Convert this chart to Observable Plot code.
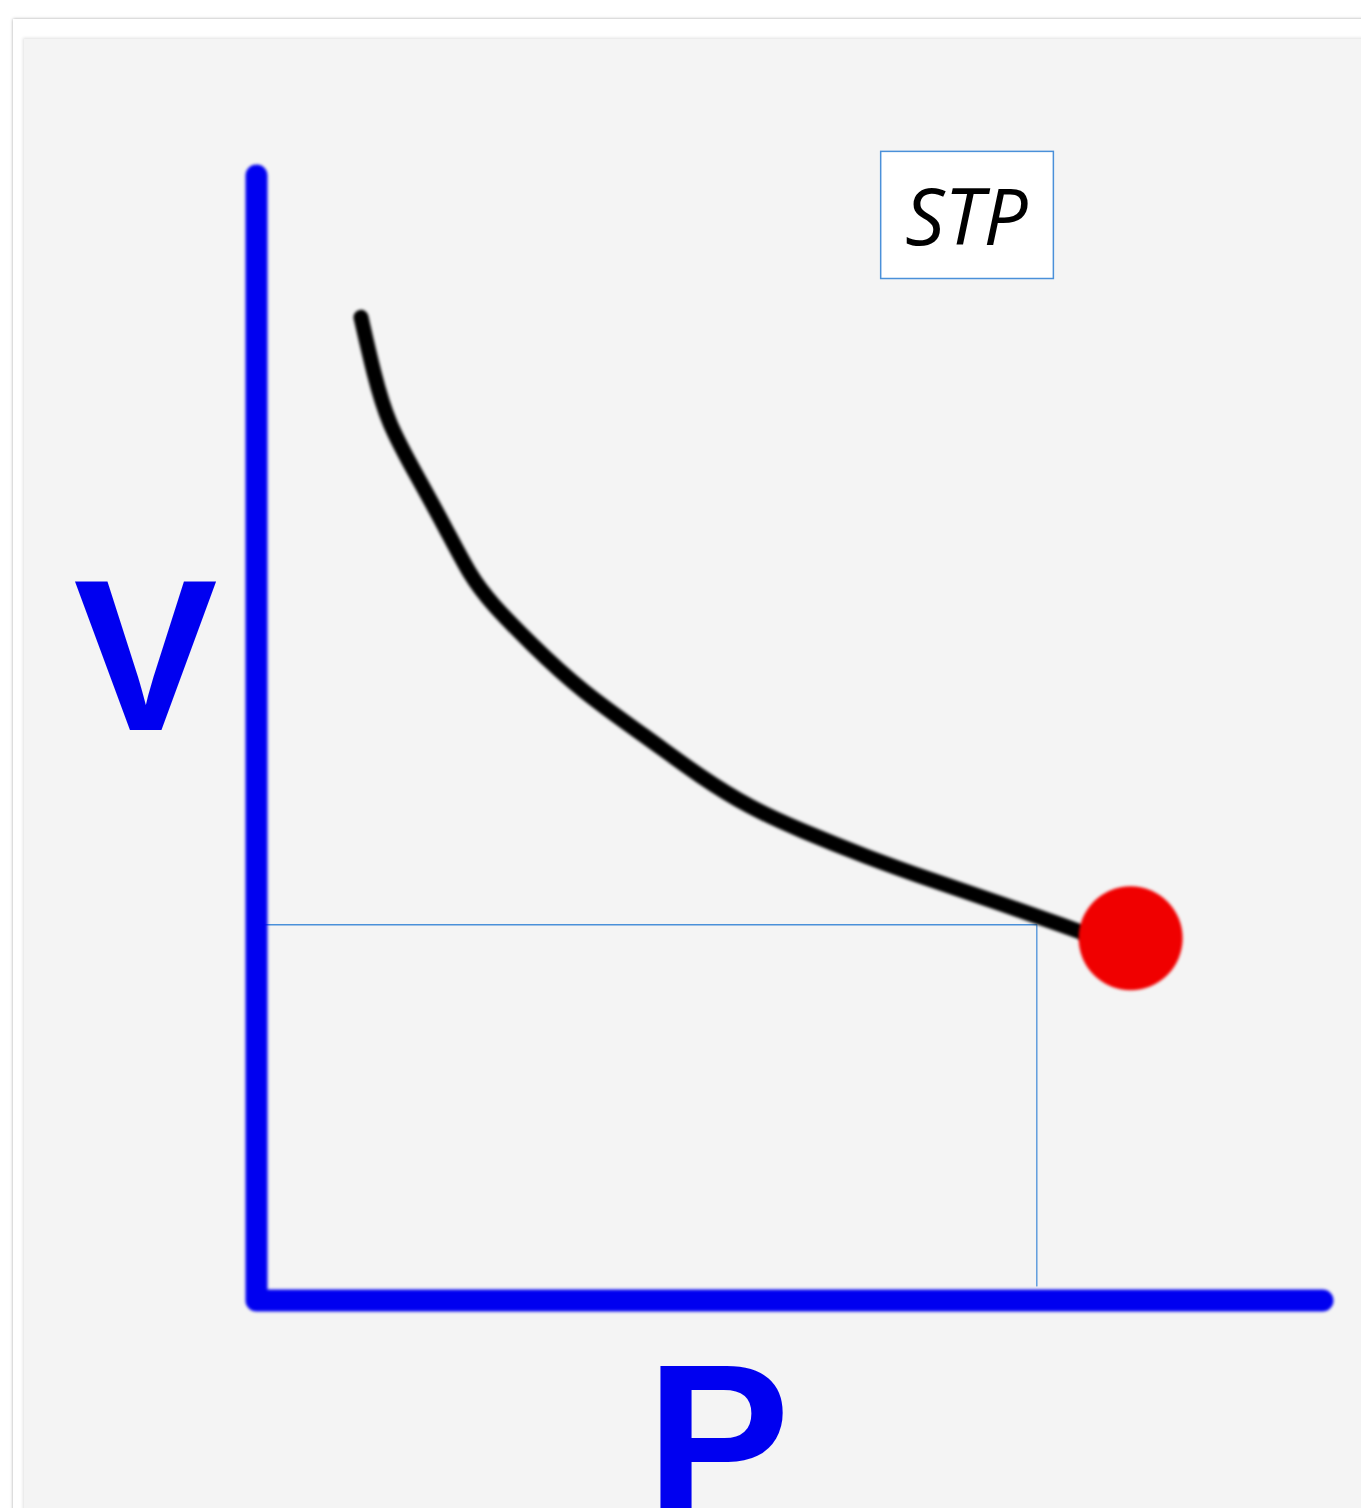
<!DOCTYPE html>
<html>
<head>
<meta charset="utf-8">
<script src="https://cdn.jsdelivr.net/npm/d3@7"></script>
<script src="https://cdn.jsdelivr.net/npm/@observablehq/plot@0.6"></script>
<style>
  html, body { margin: 0; padding: 0; background: #ffffff; overflow: hidden; }
  #frame { position: absolute; left: 13px; top: 19px; width: 1400px; height: 1550px; background: #ffffff;
           box-shadow: 0 0 3px rgba(0,0,0,0.35); }
  #panel { position: absolute; left: 11px; top: 20px; right: 0; bottom: 0; background: #f4f4f4;
           box-shadow: -1px -1px 3px rgba(0,0,0,0.12); }
  #chart { position: absolute; left: 0; top: 0; }
  #chart g[aria-label="line"].blurred path { filter: blur(1.6px); }
  #chart g[aria-label="dot"] circle { filter: blur(1.5px); }
</style>
</head>
<body>
<div id="frame"><div id="panel"></div></div>
<div id="chart"></div>
<script>
// Curve (pressure P, volume V) in arbitrary units
const curveP = [0.98, 1.10, 1.23, 1.51, 1.75, 2.01, 2.20, 2.57, 3.04, 3.70, 4.17, 4.63, 5.10, 5.73, 6.35, 6.98, 7.61, 7.95];
const curveV = [8.74, 8.24, 7.80, 7.32, 6.91, 6.43, 6.20, 5.84, 5.42, 4.98, 4.65, 4.38, 4.18, 3.94, 3.73, 3.53, 3.32, 3.20];
// STP point
const stpP = 8.20;
const stpV = 3.22;
// guide lines (projection to axes)
const guideP = 7.32;
const guideV = 3.34;
// axis extents
const axisMax = 10;
// labels
const axisLabels = [
  {text: "V", P: -1.04, V: 5.69},
  {text: "P", P: 4.33, V: -1.28}
];
const stpBox = {P1: 5.86, P2: 7.48, V1: 9.08, V2: 10.21, label: "STP", P: 6.66, V: 9.60};

const curve = curveP.map((p, i) => ({P: p, V: curveV[i]}));
const blue = "#0000f0";
const guideColor = "#4a90d9";

const plot = Plot.plot({
  width: 1361,
  height: 1508,
  margin: 0,
  style: {background: "transparent", overflow: "visible"},
  x: {domain: [0, 10], range: [256, 1322], axis: null},
  y: {domain: [0, 10], range: [1300, 175], axis: null},
  marks: [
    // guide lines
    Plot.line([{P: 0, V: guideV}, {P: guideP, V: guideV}, {P: guideP, V: 0.13}],
      {x: "P", y: "V", stroke: guideColor, strokeWidth: 1.3}),
    // axes
    Plot.line([{P: 0, V: axisMax}, {P: 0, V: 0}, {P: axisMax, V: 0}],
      {x: "P", y: "V", stroke: blue, strokeWidth: 22, strokeLinecap: "round", strokeLinejoin: "round"}),
    // curve
    Plot.line(curve, {x: "P", y: "V", stroke: "#000000", strokeWidth: 15, curve: "basis", strokeLinecap: "round"}),
    // STP point
    Plot.dot([{P: stpP, V: stpV}], {x: "P", y: "V", r: 52, fill: "#f00000", stroke: null}),
    // axis letters
    Plot.text(axisLabels, {x: "P", y: "V", text: "text", fill: blue, fontSize: 216, fontWeight: "bold",
      fontFamily: "Liberation Sans, Arial, sans-serif"}),
    // STP box
    Plot.rect([stpBox], {x1: "P1", x2: "P2", y1: "V1", y2: "V2", fill: "#ffffff", stroke: guideColor, strokeWidth: 1.5}),
    Plot.text([stpBox], {x: "P", y: "V", text: "label", fill: "#000000", fontSize: 78, fontStyle: "italic",
      fontFamily: "Open Sans, Liberation Sans, sans-serif"})
  ]
});
// soften the thick strokes (axes and curve) like the reference
const lines = plot.querySelectorAll('g[aria-label="line"]');
lines.forEach((g, i) => { if (i > 0) g.classList.add("blurred"); });
document.getElementById("chart").appendChild(plot);
</script>
</body>
</html>
